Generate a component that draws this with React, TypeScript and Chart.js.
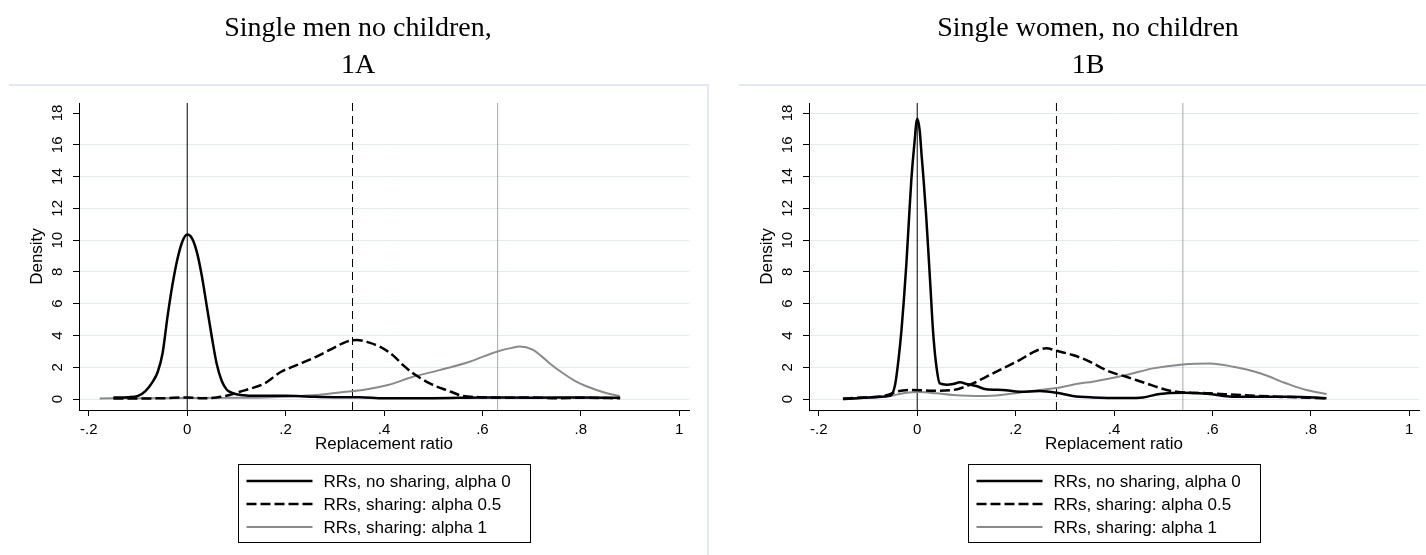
import React, { useEffect, useRef } from 'react';
import { Chart, registerables } from 'chart.js';

Chart.register(...registerables);

const SANS = '"Liberation Sans", Arial, Helvetica, sans-serif';
const SERIF = '"Liberation Serif", "Times New Roman", serif';

// ---------- axis ticks ----------
const xTickValues = [-0.2, 0, 0.2, 0.4, 0.6, 0.8, 1];
const xTickLabels = ['-.2', '0', '.2', '.4', '.6', '.8', '1'];
const yTickValues = [0, 2, 4, 6, 8, 10, 12, 14, 16, 18];
const yTickLabels = ['0', '2', '4', '6', '8', '10', '12', '14', '16', '18'];

const seriesLabels = ['RRs, no sharing, alpha 0', 'RRs, sharing: alpha 0.5', 'RRs, sharing: alpha 1'];

// ---------- 1A: single men, no children ----------
const menAlpha0X = [-0.15, -0.12, -0.1, -0.085, -0.07, -0.06, -0.05, -0.04, -0.03, -0.02, -0.01, 0, 0.01, 0.02, 0.03, 0.04, 0.05, 0.06, 0.07, 0.08, 0.09, 0.1, 0.12, 0.15, 0.2, 0.25, 0.3, 0.35, 0.4, 0.5, 0.6, 0.7, 0.8, 0.88];
const menAlpha0Y = [0.1, 0.12, 0.2, 0.5, 1.1, 1.7, 2.9, 5.2, 7.2, 8.8, 9.9, 10.35, 10.1, 9.2, 7.7, 5.8, 3.9, 2.2, 1.15, 0.6, 0.4, 0.3, 0.22, 0.2, 0.2, 0.15, 0.12, 0.12, 0.05, 0.05, 0.1, 0.08, 0.1, 0.08];

const menAlpha05X = [-0.15, -0.05, 0, 0.03, 0.06, 0.086, 0.107, 0.13, 0.157, 0.19, 0.228, 0.262, 0.296, 0.323, 0.345, 0.37, 0.391, 0.41, 0.425, 0.44, 0.459, 0.475, 0.493, 0.51, 0.527, 0.545, 0.56, 0.595, 0.65, 0.7, 0.75, 0.8, 0.88];
const menAlpha05Y = [0.03, 0.05, 0.1, 0.05, 0.1, 0.25, 0.46, 0.67, 0.98, 1.7, 2.2, 2.66, 3.19, 3.6, 3.72, 3.55, 3.3, 2.95, 2.56, 2.1, 1.62, 1.3, 0.98, 0.75, 0.57, 0.35, 0.19, 0.12, 0.08, 0.1, 0.05, 0.08, 0.05];

const menAlpha1X = [-0.178, -0.1, 0, 0.1, 0.16, 0.2, 0.262, 0.3, 0.323, 0.357, 0.408, 0.459, 0.513, 0.574, 0.629, 0.66, 0.676, 0.703, 0.72, 0.737, 0.764, 0.791, 0.81, 0.832, 0.855, 0.879];
const menAlpha1Y = [0.04, 0.05, 0.06, 0.08, 0.1, 0.15, 0.25, 0.38, 0.46, 0.57, 0.88, 1.4, 1.82, 2.35, 2.98, 3.22, 3.3, 3.09, 2.7, 2.24, 1.62, 1.09, 0.82, 0.57, 0.35, 0.19];

const menMeans = [0, 0.336, 0.631];

// ---------- 1B: single women, no children ----------
const womenAlpha0X = [-0.151, -0.12, -0.1, -0.077, -0.055, -0.045, -0.038, -0.032, -0.027, -0.022, -0.017, -0.012, -0.006, 0, 0.005, 0.009, 0.013, 0.018, 0.022, 0.027, 0.032, 0.038, 0.046, 0.06, 0.073, 0.087, 0.1, 0.12, 0.14, 0.174, 0.208, 0.249, 0.283, 0.316, 0.357, 0.425, 0.459, 0.493, 0.54, 0.595, 0.64, 0.695, 0.76, 0.832];
const womenAlpha0Y = [0, 0.05, 0.1, 0.15, 0.2, 0.9, 2.5, 4.34, 6.3, 8.54, 11.2, 13.78, 16.0, 17.64, 16.9, 15.3, 13.78, 11.6, 9.6, 7.0, 4.34, 2.3, 0.98, 0.9, 0.94, 1.05, 0.95, 0.82, 0.61, 0.57, 0.46, 0.5, 0.4, 0.19, 0.1, 0.06, 0.1, 0.32, 0.4, 0.32, 0.15, 0.15, 0.15, 0.05];

const womenAlpha05X = [-0.151, -0.11, -0.077, -0.06, -0.043, -0.01, 0.032, 0.073, 0.113, 0.14, 0.174, 0.208, 0.242, 0.262, 0.283, 0.316, 0.344, 0.391, 0.425, 0.466, 0.507, 0.527, 0.595, 0.66, 0.73, 0.832];
const womenAlpha05Y = [0.02, 0.1, 0.15, 0.25, 0.46, 0.57, 0.52, 0.57, 0.98, 1.4, 1.93, 2.45, 3.04, 3.19, 3.04, 2.77, 2.45, 1.72, 1.4, 0.98, 0.57, 0.46, 0.36, 0.25, 0.15, 0.05];

const womenAlpha1X = [-0.151, -0.063, -0.022, 0.005, 0.039, 0.073, 0.14, 0.208, 0.249, 0.283, 0.33, 0.357, 0.425, 0.479, 0.54, 0.595, 0.643, 0.697, 0.751, 0.791, 0.832];
const womenAlpha1Y = [0.05, 0.15, 0.4, 0.44, 0.36, 0.25, 0.19, 0.4, 0.57, 0.7, 0.98, 1.09, 1.51, 1.93, 2.18, 2.24, 2.03, 1.62, 0.98, 0.57, 0.32];

const womenMeans = [0, 0.283, 0.54];

// ---------- styles ----------
const seriesColors = ['#000000', '#000000', '#8a8a8a'];
const seriesWidths = [2.5, 2.5, 2];
const seriesDashes: number[][] = [[], [10, 4], []];
const meanColors = ['#000000', '#000000', '#a8a8a8'];
const meanDashes: number[][] = [[], [8, 5], []];

const X_MIN = -0.22;
const X_MAX = 1.02;
const Y_MIN = -0.69;
const Y_MAX = 18.63;

const CANVAS_W = 716;
const CANVAS_H = 555;

const boxLegendPlugin = {
  id: 'boxLegend',
  afterDraw(chart: any) {
    const ctx = chart.ctx;
    const area = chart.chartArea;
    const items = chart.data.datasets.filter((d: any) => !d.isMean);
    ctx.save();
    ctx.font = `17px ${SANS}`;
    const textW = Math.max(...items.map((d: any) => ctx.measureText(d.label).width));
    const padL = 8, sampleW = 66, gap = 11, padR = 20, rowH = 23, padT = 16;
    const boxW = Math.round(padL + sampleW + gap + textW + padR);
    const boxH = 78;
    const cx = (area.left + area.right) / 2;
    const left = Math.round(cx - boxW / 2) + 0.5;
    const top = Math.round(area.bottom + 54) + 0.5;
    ctx.setLineDash([]);
    ctx.strokeStyle = '#000';
    ctx.lineWidth = 1;
    ctx.strokeRect(left, top, boxW, boxH);
    items.forEach((d: any, i: number) => {
      const y = Math.round(top + padT + i * rowH);
      ctx.beginPath();
      ctx.setLineDash(d.borderDash || []);
      ctx.strokeStyle = d.borderColor;
      ctx.lineWidth = d.borderWidth;
      ctx.moveTo(left + padL, y);
      ctx.lineTo(left + padL + sampleW, y);
      ctx.stroke();
      ctx.setLineDash([]);
      ctx.fillStyle = '#000';
      ctx.textBaseline = 'middle';
      ctx.textAlign = 'left';
      ctx.fillText(d.label, left + padL + sampleW + gap, y + 1);
    });
    ctx.restore();
  },
};

type PanelDef = {
  title: string[];
  xs: number[][];
  ys: number[][];
  means: number[];
  topGrid: boolean;
};

const panels: PanelDef[] = [
  {
    title: ['Single men no children,', '1A'],
    xs: [menAlpha0X, menAlpha05X, menAlpha1X],
    ys: [menAlpha0Y, menAlpha05Y, menAlpha1Y],
    means: menMeans,
    topGrid: false,
  },
  {
    title: ['Single women, no children', '1B'],
    xs: [womenAlpha0X, womenAlpha05X, womenAlpha1X],
    ys: [womenAlpha0Y, womenAlpha05Y, womenAlpha1Y],
    means: womenMeans,
    topGrid: true,
  },
];

function buildConfig(panel: PanelDef): any {
  const datasets: any[] = [];
  panel.xs.forEach((xs, i) => {
    datasets.push({
      label: seriesLabels[i],
      data: xs.map((x, j) => ({ x, y: panel.ys[i][j] })),
      borderColor: seriesColors[i],
      borderWidth: seriesWidths[i],
      borderDash: seriesDashes[i],
      pointRadius: 0,
      fill: false,
      cubicInterpolationMode: 'monotone',
      borderJoinStyle: 'round',
    });
  });
  panel.means.forEach((m, i) => {
    datasets.push({
      label: 'mean ' + seriesLabels[i],
      isMean: true,
      data: [
        { x: m, y: Y_MIN },
        { x: m, y: Y_MAX },
      ],
      borderColor: meanColors[i],
      borderWidth: 1,
      borderDash: meanDashes[i],
      pointRadius: 0,
      fill: false,
    });
  });

  return {
    type: 'line',
    data: { datasets },
    plugins: [boxLegendPlugin],
    options: {
      animation: false,
      responsive: false,
      maintainAspectRatio: false,
      events: [],
      layout: { padding: { left: 27, right: 27, top: 0, bottom: 100 } },
      plugins: {
        legend: { display: false },
        tooltip: { enabled: false },
        title: {
          display: true,
          text: panel.title,
          color: '#000',
          font: { family: SERIF, size: 28, weight: 'normal', lineHeight: '37px' },
          padding: { top: 10, bottom: 19 },
        },
      },
      scales: {
        x: {
          type: 'linear',
          min: X_MIN,
          max: X_MAX,
          afterBuildTicks: (scale: any) => {
            scale.ticks = xTickValues.map((value) => ({ value }));
          },
          afterFit: (scale: any) => {
            scale.height = 45;
          },
          ticks: {
            autoSkip: false,
            maxRotation: 0,
            minRotation: 0,
            padding: 5,
            color: '#000',
            font: { family: SANS, size: 15 },
            callback: (_v: any, index: number) => xTickLabels[index],
          },
          grid: {
            drawOnChartArea: false,
            drawTicks: true,
            tickLength: 6,
            tickColor: '#000',
            tickWidth: 1,
          },
          border: { display: true, color: '#000', width: 1 },
          title: {
            display: true,
            text: 'Replacement ratio',
            color: '#000',
            font: { family: SANS, size: 17 },
            padding: { top: 0, bottom: 0 },
          },
        },
        y: {
          type: 'linear',
          min: Y_MIN,
          max: Y_MAX,
          afterBuildTicks: (scale: any) => {
            scale.ticks = yTickValues.map((value) => ({ value }));
          },
          afterFit: (scale: any) => {
            scale.width = 52;
          },
          ticks: {
            autoSkip: false,
            minRotation: 90,
            maxRotation: 90,
            crossAlign: 'center',
            padding: 7,
            color: '#000',
            font: { family: SANS, size: 15 },
            callback: (_v: any, index: number) => yTickLabels[index],
          },
          grid: {
            drawOnChartArea: true,
            drawTicks: true,
            tickLength: 6,
            lineWidth: 1,
            color: (c: any) =>
              c.tick && c.tick.value === 18 && !panel.topGrid ? 'rgba(0,0,0,0)' : '#e3e8f2',
            tickColor: '#000',
            tickWidth: 1,
          },
          border: { display: true, color: '#000', width: 1 },
          title: {
            display: true,
            text: 'Density',
            color: '#000',
            font: { family: SANS, size: 17 },
            padding: 0,
          },
        },
      },
    },
  };
}

function PanelChart({ panel, left }: { panel: PanelDef; left: number }) {
  const ref = useRef<HTMLCanvasElement | null>(null);
  useEffect(() => {
    if (!ref.current) return;
    const chart = new Chart(ref.current, buildConfig(panel));
    return () => chart.destroy();
  }, [panel]);
  return (
    <canvas
      ref={ref}
      width={CANVAS_W}
      height={CANVAS_H}
      style={{ position: 'absolute', left, top: 0, width: CANVAS_W, height: CANVAS_H }}
    />
  );
}

const BORDER = '#e2e7f1';

export default function App() {
  return (
    <div
      style={{
        position: 'fixed',
        left: 0,
        top: 0,
        width: 1426,
        height: 555,
        overflow: 'hidden',
        background: '#ffffff',
      }}
    >
      <div style={{ position: 'absolute', left: 9, top: 84, width: 700, height: 2, background: BORDER }} />
      <div style={{ position: 'absolute', left: 707, top: 84, width: 2, height: 471, background: BORDER }} />
      <div style={{ position: 'absolute', left: 739, top: 84, width: 687, height: 2, background: BORDER }} />
      <PanelChart panel={panels[0]} left={0} />
      <PanelChart panel={panels[1]} left={730} />
    </div>
  );
}
